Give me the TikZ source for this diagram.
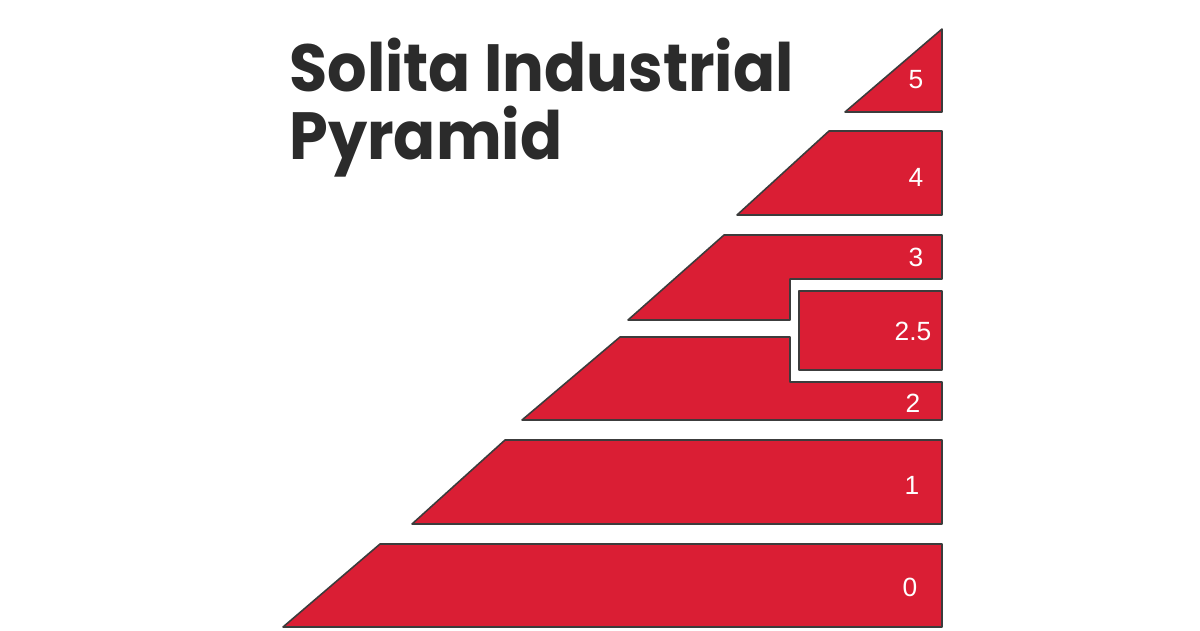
\documentclass[tikz,border=0pt]{standalone}
\usepackage{fontspec}
\setsansfont{Liberation Sans}
\newfontfamily\titlefont{Poppins}[FakeStretch=0.93]
\usetikzlibrary{positioning}
\definecolor{pyrred}{HTML}{DA1E34}
\definecolor{pyredge}{HTML}{3C3C3C}
\definecolor{titlegray}{HTML}{2B2B2B}

\begin{document}
\begin{tikzpicture}[x=0.02cm,y=-0.02cm,
  level/.style={fill=pyrred,draw=pyredge,line width=0.9pt,line join=round},
  level label/.style={text=white,font=\sffamily\fontsize{15}{15}\selectfont,inner sep=0pt},
  title text/.style={text=titlegray,align=left,inner sep=0pt,
    font=\titlefont\bfseries\fontsize{38}{38.5}\selectfont}]

  \useasboundingbox (0,0) rectangle (1200,630);

  % the levels, top to bottom
  \draw[level] (942,29) -- (942,112) -- (845,112) -- cycle;
  \draw[level] (829,131) -- (942,131) -- (942,215) -- (737,215) -- cycle;
  \draw[level] (724,235) -- (942,235) -- (942,279) -- (790,279) -- (790,320)
    -- (628,320) -- cycle;
  \draw[level] (799,291) rectangle (942,370);
  \draw[level] (620,337) -- (790,337) -- (790,382) -- (942,382) -- (942,420)
    -- (522,420) -- cycle;
  \draw[level] (505,440) -- (942,440) -- (942,524) -- (412,524) -- cycle;
  \draw[level] (380,544) -- (942,544) -- (942,627) -- (283,627) -- cycle;

  \node[level label] (l5) at (916,80) {5};
  \node[level label] (l4) at (916,177) {4};
  \node[level label] (l3) at (916,257) {3};
  \node[level label] (l25) at (913,331) {2.5};
  \node[level label] (l2) at (913,403) {2};
  \node[level label] (l1) at (912,485) {1};
  \node[level label] (l0) at (910,587) {0};

  \node[title text,anchor=north west] (title) at (289,38) {Solita Industrial\\Pyramid};
\end{tikzpicture}
\end{document}
